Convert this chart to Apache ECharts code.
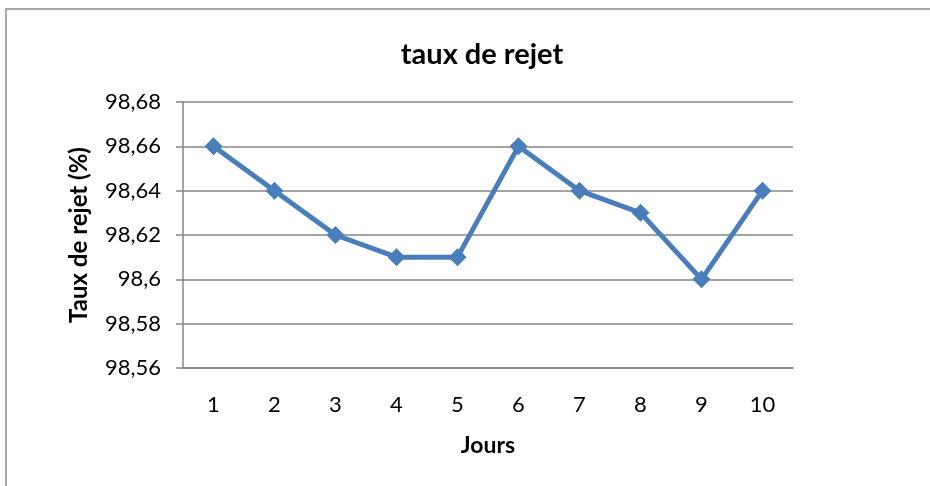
<!DOCTYPE html>
<html>
<head>
<meta charset="utf-8">
<script src="https://cdn.jsdelivr.net/npm/echarts@6/dist/echarts.min.js"></script>
<style>
  html, body { margin: 0; padding: 0; background: #fff; }
  #chart { width: 930px; height: 486px; }
</style>
</head>
<body>
<div id="chart"></div>
<script>
// Daily rejection rate (%)
const jours = ['1', '2', '3', '4', '5', '6', '7', '8', '9', '10'];
const tauxRejet = [98.66, 98.64, 98.62, 98.61, 98.61, 98.66, 98.64, 98.63, 98.60, 98.64];
const yMin = 98.56, yMax = 98.68, yStep = 0.02;

const font = 'Lato, "Open Sans", sans-serif';
const frToNumber = v => parseFloat(v.toFixed(2)).toString().replace('.', ',');

const chart = echarts.init(document.getElementById('chart'), null, { renderer: 'canvas' });
chart.setOption({
  animation: false,
  backgroundColor: '#ffffff',
  graphic: [{
    type: 'rect',
    shape: { x: 6, y: 9, width: 940, height: 500 },
    style: { fill: 'none', stroke: '#8c8c8c', lineWidth: 1.5 },
    silent: true
  }],
  title: {
    text: 'taux de rejet',
    left: 477, top: 35, textAlign: 'center',
    textStyle: { fontFamily: font, fontWeight: 'bold', fontSize: 29, color: '#000' }
  },
  grid: { left: 183, right: 137, top: 102, bottom: 118, containLabel: false },
  xAxis: {
    type: 'category',
    data: jours,
    boundaryGap: true,
    name: 'Jours',
    nameLocation: 'middle',
    nameGap: 66,
    nameTextStyle: { fontFamily: font, fontWeight: 'bold', fontSize: 23, color: '#000' },
    axisLine: { lineStyle: { color: '#868686', width: 1.5 } },
    axisTick: { show: false },
    axisLabel: { fontFamily: font, fontSize: 22, color: '#000', margin: 26 }
  },
  yAxis: {
    type: 'value',
    min: yMin, max: yMax, interval: yStep,
    name: 'Taux de rejet (%)',
    nameLocation: 'middle',
    nameGap: 92,
    nameTextStyle: { fontFamily: font, fontWeight: 'bold', fontSize: 24, color: '#000' },
    axisLine: { show: true, lineStyle: { color: '#868686', width: 1.5 } },
    axisTick: { show: true, length: 7, lineStyle: { color: '#868686', width: 1.5 } },
    splitLine: { show: true, lineStyle: { color: '#868686', width: 1.5 } },
    axisLabel: { fontFamily: font, fontSize: 22, color: '#000', margin: 22, formatter: frToNumber }
  },
  series: [{
    type: 'line',
    data: tauxRejet,
    symbol: 'diamond',
    symbolSize: 18,
    lineStyle: { color: '#4a7ebb', width: 5 },
    itemStyle: { color: '#4a7ebb' }
  }]
});
</script>
</body>
</html>
